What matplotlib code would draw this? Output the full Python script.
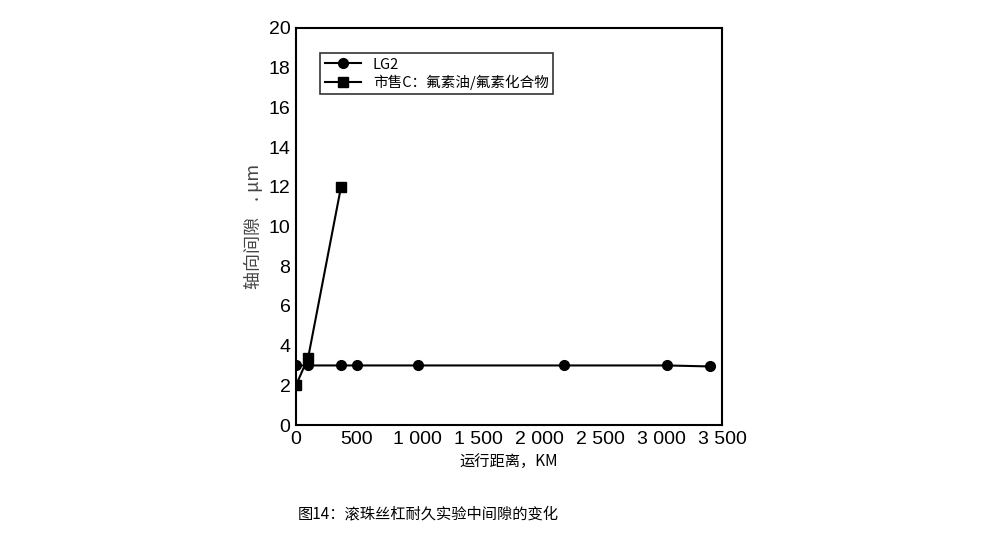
import matplotlib
matplotlib.use("Agg")
import matplotlib.pyplot as plt

plt.rcParams['font.family'] = ['Noto Sans CJK SC', 'DejaVu Sans']

lg2_x = [0, 100, 370, 500, 1000, 2200, 3050, 3400]
lg2_y = [3, 3, 3, 3, 3, 3, 3, 2.95]
c_x = [0, 100, 370]
c_y = [2, 3.4, 12]
xticks = [0, 500, 1000, 1500, 2000, 2500, 3000, 3500]
xlabels = ["0", "500", "1 000", "1 500", "2 000", "2 500", "3 000", "3 500"]
yticks = list(range(0, 21, 2))

fig = plt.figure(figsize=(9.85, 5.41), dpi=100)
ax = fig.add_axes([296/985, 1-425/541, (722-296)/985, (425-28)/541])
ax.plot(lg2_x, lg2_y, '-o', color='black', ms=7, lw=1.5, label='LG2')
ax.plot(c_x, c_y, '-s', color='black', ms=7, lw=1.5, label='市售C：氟素油/氟素化合物')
ax.set_xlim(0, 3430)
ax.set_ylim(0, 20)
ax.set_xticks(xticks)
ax.set_xticklabels(xlabels)
ax.set_yticks(yticks)
ax.tick_params(length=0, labelsize=14, pad=4)
for lab in ax.get_xticklabels() + ax.get_yticklabels():
    lab.set_family(['Liberation Sans', 'DejaVu Sans'])
for s in ax.spines.values():
    s.set_linewidth(1.5)
ax.set_xlabel('运行距离，KM', fontsize=11)
ax.set_ylabel('轴向间隙    . μm', fontsize=13, color='#444444')
leg = ax.legend(loc='upper left', bbox_to_anchor=(0.04, 0.955), fancybox=False,
                edgecolor='black', fontsize=10.5, borderpad=0.3, labelspacing=0.2,
                handlelength=2.5)
leg.get_frame().set_linewidth(1.2)
fig.text(298/985, 1-514/541, '图14：滚珠丝杠耐久实验中间隙的变化', fontsize=11, va='center')
fig.savefig('out.png', dpi=100)
